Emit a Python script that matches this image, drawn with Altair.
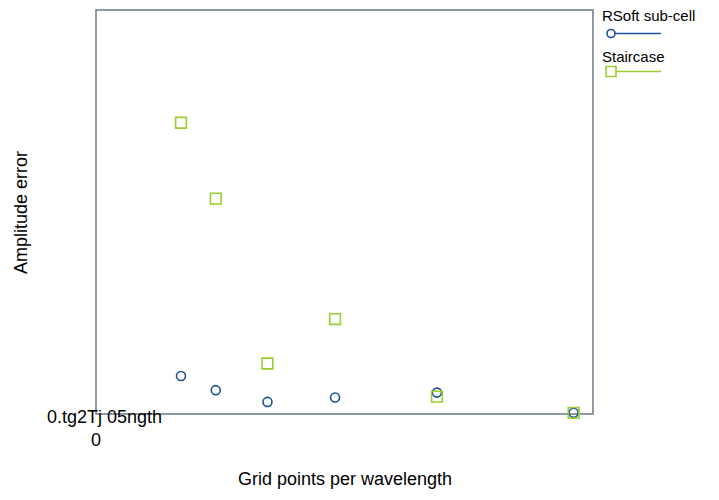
import altair as alt
import pandas as pd

# Data
grid_points = [17.1, 24.1, 34.5, 48.1, 68.6, 96.1]
rsoft_err = [0.094, 0.059, 0.030, 0.041, 0.053, 0.003]
stair_err = [0.721, 0.533, 0.125, 0.235, 0.043, 0.003]
series_names = ["RSoft sub-cell", "Staircase"]
series_colors = ["#1c4f9c", "#9acd32"]
corner_labels = ["0.tg2Tj 05ngth", "0"]

df = pd.DataFrame({
    "x": grid_points * 2,
    "y": rsoft_err + stair_err,
    "series": [series_names[0]] * len(grid_points) + [series_names[1]] * len(grid_points),
})

W, H = 497, 404
FONT = "Liberation Sans"

xs = alt.Scale(domain=[0, 100], nice=False, zero=False)
ys = alt.Scale(domain=[0, 1], nice=False, zero=False)

base = alt.Chart(df)

circles = base.transform_filter(alt.datum.series == series_names[0]).mark_point(
    shape="circle", filled=False, size=81, strokeWidth=1.6, color=series_colors[0], opacity=1
).encode(
    x=alt.X("x:Q", scale=xs, axis=alt.Axis(title="Grid points per wavelength", labels=False, ticks=False,
                                           domain=False, grid=False, titlePadding=56, titleFontSize=18,
                                           titleFont=FONT, titleFontWeight="normal", titleColor="#000")),
    y=alt.Y("y:Q", scale=ys, axis=alt.Axis(title="Amplitude error", labels=False, ticks=False,
                                           domain=False, grid=False, titlePadding=66, titleFontSize=18,
                                           titleFont=FONT, titleFontWeight="normal", titleColor="#000")),
)

squares = base.transform_filter(alt.datum.series == series_names[1]).mark_point(
    shape="square", filled=False, size=115, strokeWidth=1.6, color=series_colors[1], opacity=1
).encode(x=alt.X("x:Q", scale=xs), y=alt.Y("y:Q", scale=ys))

lab_df = pd.DataFrame({"t": corner_labels})
lab1 = alt.Chart(lab_df).transform_filter(alt.datum.t == corner_labels[0]).mark_text(
    font=FONT, fontSize=18, align="center", baseline="alphabetic", color="#000"
).encode(text="t:N", x=alt.value(8.5), y=alt.value(413.3))
lab2 = alt.Chart(lab_df).transform_filter(alt.datum.t == corner_labels[1]).mark_text(
    font=FONT, fontSize=18, align="center", baseline="alphabetic", color="#000"
).encode(text="t:N", x=alt.value(0), y=alt.value(436))

leg_df = pd.DataFrame({"name": series_names, "color": series_colors})
legend_layers = []
for i, (name, col) in enumerate(zip(series_names, series_colors)):
    ly = 11 + 41 * i
    sy = 23.5 + 38 * i
    d = alt.Chart(leg_df).transform_filter(alt.datum.name == name)
    legend_layers.append(d.mark_text(font=FONT, fontSize=15, align="left", baseline="alphabetic", color="#000")
                         .encode(text="name:N", x=alt.value(506), y=alt.value(ly)))
    legend_layers.append(d.mark_rule(color=col, strokeWidth=1.3)
                         .encode(x=alt.value(515), x2=alt.value(565), y=alt.value(sy)))
    legend_layers.append(d.mark_point(shape="circle" if i == 0 else "square", filled=False,
                                      size=64 if i == 0 else 100, strokeWidth=1.6, color=col,
                                      fill="white", opacity=1)
                         .encode(x=alt.value(515), y=alt.value(sy)))

chart = alt.layer(circles, squares, lab1, lab2, *legend_layers).properties(
    width=W, height=H,
    background="white",
    autosize=alt.AutoSizeParams(type="none"),
    padding={"left": 88, "top": 2, "right": 116, "bottom": 76},
).configure_view(
    stroke="#6b7886", strokeWidth=1.5, clip=False
)

chart.save("out.html", embed_options={"renderer": "svg", "actions": False})
